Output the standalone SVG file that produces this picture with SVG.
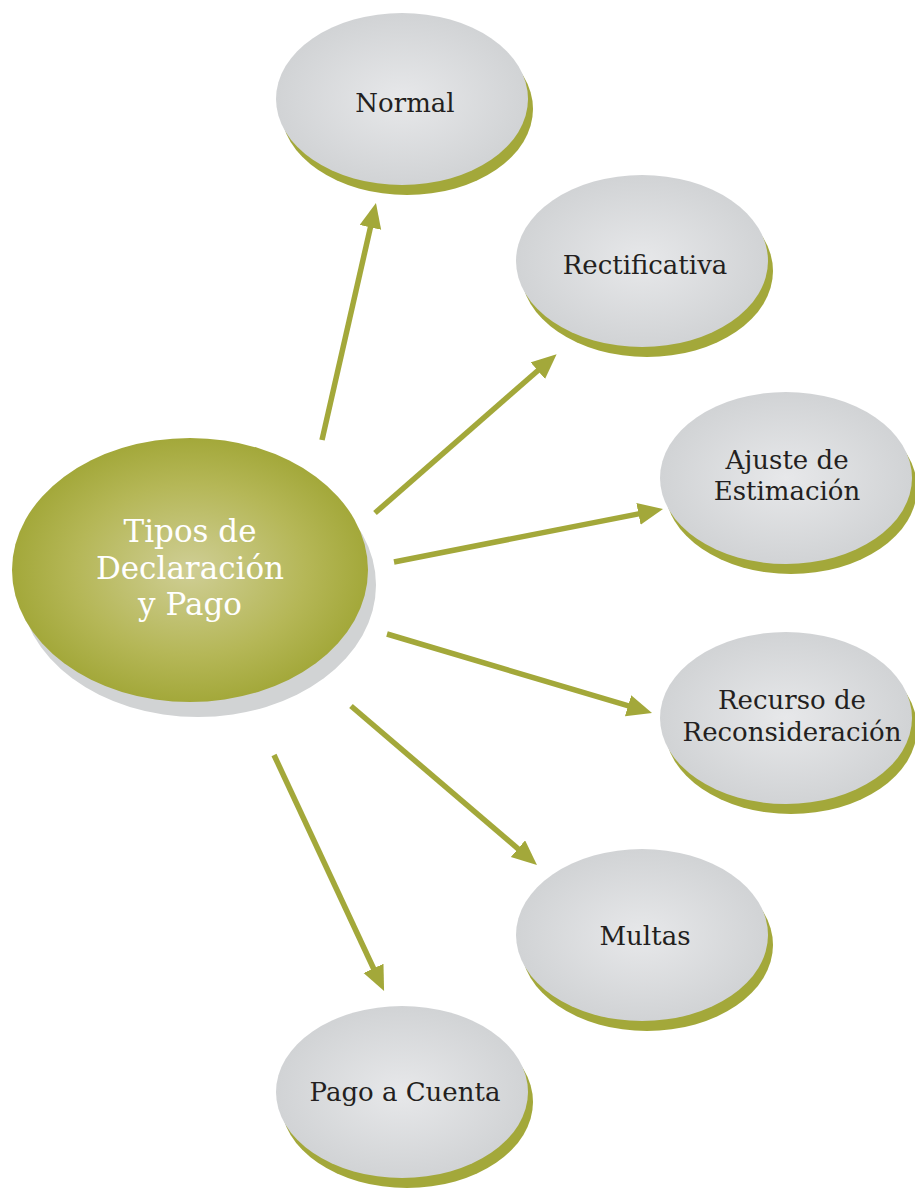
<svg xmlns="http://www.w3.org/2000/svg" width="915" height="1194" viewBox="0 0 915 1194">
<defs>
<radialGradient id="gGray" cx="50%" cy="50%" r="50%">
<stop offset="0" stop-color="#e7e8ea"/>
<stop offset="1" stop-color="#d1d3d5"/>
</radialGradient>
<radialGradient id="gGreen" cx="50%" cy="50%" r="50%">
<stop offset="0" stop-color="#cfce95"/>
<stop offset="0.65" stop-color="#b5b757"/>
<stop offset="1" stop-color="#a3a83a"/>
</radialGradient>
<marker id="arr" markerUnits="userSpaceOnUse" markerWidth="28" markerHeight="24" refX="4" refY="11" orient="auto">
<path d="M0,0 L25,11 L0,22 z" fill="#a3a83a"/>
</marker>
</defs>
<style>
.sh{fill:#a3a83a}
.nd{fill:url(#gGray)}
.t{font-family:"DejaVu Serif","Liberation Serif",serif;font-size:26px;fill:#231f20;text-anchor:middle}
.tc{font-family:"DejaVu Serif","Liberation Serif",serif;font-size:31px;fill:#ffffff;text-anchor:middle}
.c line{stroke:#a3a83a;stroke-width:5.5;fill:none;marker-end:url(#arr)}
</style>
<rect width="915" height="1194" fill="#ffffff"/>
<g id="center">
<ellipse cx="198" cy="585" rx="178" ry="132" fill="#d1d3d4"/>
<ellipse cx="190" cy="570" rx="178" ry="132" fill="url(#gGreen)"/>
<text class="tc" x="190" y="542">Tipos de</text>
<text class="tc" x="190" y="579">Declaración</text>
<text class="tc" x="190" y="615">y Pago</text>
</g>
<g id="normal">
<ellipse class="sh" cx="407" cy="109" rx="126" ry="86"/>
<ellipse class="nd" cx="402" cy="99" rx="126" ry="86"/>
<text class="t" x="405" y="112">Normal</text>
</g>
<g id="rectificativa">
<ellipse class="sh" cx="647" cy="271" rx="126" ry="86"/>
<ellipse class="nd" cx="642" cy="261" rx="126" ry="86"/>
<text class="t" x="645" y="274">Rectificativa</text>
</g>
<g id="ajuste">
<ellipse class="sh" cx="791" cy="488" rx="126" ry="86"/>
<ellipse class="nd" cx="786" cy="478" rx="126" ry="86"/>
<text class="t" x="787" y="469">Ajuste de</text>
<text class="t" x="787" y="500">Estimación</text>
</g>
<g id="recurso">
<ellipse class="sh" cx="791" cy="728" rx="126" ry="86"/>
<ellipse class="nd" cx="786" cy="718" rx="126" ry="86"/>
<text class="t" x="792" y="709">Recurso de</text>
<text class="t" x="792" y="741">Reconsideración</text>
</g>
<g id="multas">
<ellipse class="sh" cx="647" cy="945" rx="126" ry="86"/>
<ellipse class="nd" cx="642" cy="935" rx="126" ry="86"/>
<text class="t" x="645" y="945">Multas</text>
</g>
<g id="pago">
<ellipse class="sh" cx="407" cy="1102" rx="126" ry="86"/>
<ellipse class="nd" cx="402" cy="1092" rx="126" ry="86"/>
<text class="t" x="405" y="1101">Pago a Cuenta</text>
</g>
<g id="connectors" class="c">
<line x1="322" y1="440" x2="371.3" y2="223.5"/>
<line x1="375" y1="513" x2="540.8" y2="368"/>
<line x1="394" y1="562" x2="642.4" y2="513.1"/>
<line x1="387" y1="634" x2="631.9" y2="706.9"/>
<line x1="351" y1="706" x2="521" y2="851.3"/>
<line x1="274" y1="755" x2="375.2" y2="972"/>
</g>
</svg>
